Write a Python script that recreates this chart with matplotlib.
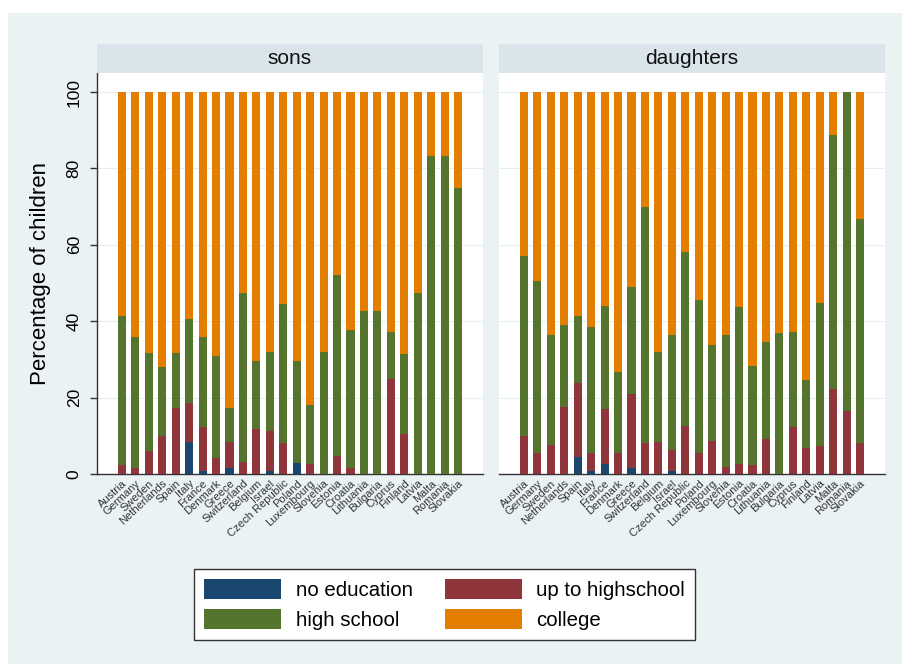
import matplotlib.pyplot as plt
from matplotlib.patches import Rectangle, Patch

plt.rcParams["font.family"] = ["Liberation Sans", "DejaVu Sans"]

countries = [
    "Austria", "Germany", "Sweden", "Netherlands", "Spain", "Italy", "France",
    "Denmark", "Greece", "Switzerland", "Belgium", "Israel", "Czech Republic",
    "Poland", "Luxembourg", "Slovenia", "Estonia", "Croatia", "Lithuania",
    "Bulgaria", "Cyprus", "Finland", "Latvia", "Malta", "Romania", "Slovakia",
]

# shares (percent) by education level, same country order as above
sons_no_educ = [0, 0, 0, 0, 0, 8.5, 0.9, 0, 1.7, 0, 0, 0.9, 0,
                3.0, 0, 0, 0, 0, 0, 0, 0, 0, 0, 0, 0, 0]
sons_up_to_hs = [2.4, 1.5, 6.0, 10.0, 17.2, 10.0, 11.5, 4.1, 6.8, 3.1, 11.8, 10.4, 8.2,
                 0, 2.5, 0, 4.8, 1.7, 0, 0, 24.8, 10.4, 0, 0, 0, 0]
sons_high_school = [39.0, 34.3, 25.6, 17.9, 14.4, 22.0, 23.4, 26.8, 8.7, 44.2, 17.8, 20.6, 36.3,
                    26.7, 15.6, 31.9, 47.3, 36.0, 42.8, 42.8, 12.5, 21.0, 47.3, 83.2, 83.2, 74.8]
sons_college = [58.6, 64.2, 68.4, 72.1, 68.4, 59.5, 64.2, 69.1, 82.8, 52.7, 70.4, 68.1, 55.5,
                70.3, 81.9, 68.1, 47.9, 62.3, 57.2, 57.2, 62.7, 68.6, 52.7, 16.8, 16.8, 25.2]

daughters_no_educ = [0, 0, 0, 0, 4.5, 0.9, 2.6, 0, 1.7, 0, 0, 0.7, 0,
                     0, 0, 0, 0, 0, 0, 0, 0, 0, 0, 0, 0, 0]
daughters_up_to_hs = [10.0, 5.4, 7.6, 17.6, 19.4, 4.5, 14.3, 5.4, 19.2, 8.0, 8.5, 5.6, 12.6,
                      5.4, 8.6, 1.9, 2.6, 2.4, 9.1, 0, 12.4, 6.9, 7.4, 22.2, 16.6, 8.2]
daughters_high_school = [47.1, 45.1, 28.8, 21.4, 17.5, 33.2, 27.2, 21.2, 28.0, 61.8, 23.4, 30.1, 45.4,
                         40.1, 25.2, 34.5, 41.2, 25.9, 25.5, 36.8, 24.9, 17.7, 37.5, 66.5, 83.4, 58.5]
daughters_college = [42.9, 49.5, 63.6, 61.0, 58.6, 61.4, 55.9, 73.4, 51.1, 30.2, 68.1, 63.6, 42.0,
                     54.5, 66.2, 63.6, 56.2, 71.7, 65.4, 63.2, 62.7, 75.4, 55.1, 11.3, 0, 33.3]

level_names = ["no education", "up to highschool", "high school", "college"]
level_colors = ["#1a476f", "#90353b", "#55752f", "#e37e00"]

panels = [
    ("sons", [sons_no_educ, sons_up_to_hs, sons_high_school, sons_college]),
    ("daughters", [daughters_no_educ, daughters_up_to_hs, daughters_high_school, daughters_college]),
]

W, H = 902, 664
fig = plt.figure(figsize=(W / 100, H / 100), dpi=100)
fig.patch.set_facecolor("white")

# graph region background, kept behind the panels
fig.patches.append(Rectangle((8 / W, 0), 1 - 8 / W, 1 - 13 / H, transform=fig.transFigure,
                             facecolor="#eaf2f3", edgecolor="none", zorder=-10))

panel_left = [97, 499]
panel_width = 386
plot_top, plot_bottom = 73, 474
strip_top = 44

positions = list(range(len(countries)))

for i, (title, levels) in enumerate(panels):
    x0 = panel_left[i]
    ax = fig.add_axes([x0 / W, 1 - plot_bottom / H, panel_width / W, (plot_bottom - plot_top) / H])
    ax.set_facecolor("white")

    bottom = [0.0] * len(countries)
    for values, color in zip(levels, level_colors):
        ax.bar(positions, values, width=0.6, bottom=bottom, color=color, linewidth=0, zorder=3)
        bottom = [b + v for b, v in zip(bottom, values)]

    ax.set_xlim(-1.86, len(countries) - 1 + 1.86)
    ax.set_ylim(0, 105)
    ax.set_yticks([0, 20, 40, 60, 80, 100])
    ax.grid(axis="y", color="#e6eef0", linewidth=0.8, zorder=0)

    ax.set_xticks(positions)
    ax.set_xticklabels(countries, rotation=43, ha="right", va="top",
                       rotation_mode="anchor", fontsize=8, color="#333333")
    ax.tick_params(axis="x", length=0, pad=3)

    for side in ["top", "right"]:
        ax.spines[side].set_visible(False)
    ax.spines["bottom"].set_color("#333333")
    ax.spines["bottom"].set_linewidth(1.0)

    if i == 0:
        ax.spines["left"].set_color("#333333")
        ax.spines["left"].set_linewidth(1.0)
        ax.tick_params(axis="y", length=5, width=1.0, color="#333333", pad=6, labelsize=12.5)
        for lab in ax.get_yticklabels():
            lab.set_rotation(90)
            lab.set_va("center")
        ax.set_ylabel("Percentage of children", fontsize=16, labelpad=11)
    else:
        ax.spines["left"].set_visible(False)
        ax.tick_params(axis="y", length=0, labelleft=False)

    # panel title strip
    strip = fig.add_axes([x0 / W, 1 - plot_top / H, panel_width / W, (plot_top - strip_top) / H])
    strip.set_facecolor("#d9e5eb")
    strip.set_xticks([])
    strip.set_yticks([])
    for s in strip.spines.values():
        s.set_visible(False)
    strip.text(0.5, 0.5, title, ha="center", va="center", fontsize=15, color="#111111",
               transform=strip.transAxes)

handles = [Patch(facecolor=c, edgecolor="none") for c in level_colors]
# two columns: no education / high school, then up to highschool / college
order = [0, 2, 1, 3]
leg = fig.legend([handles[k] for k in order], [level_names[k] for k in order],
                 ncol=2, loc="center", bbox_to_anchor=(444.5 / W, 1 - 604.5 / H),
                 fontsize=14.7, handlelength=3.77, handleheight=1.13, handletextpad=0.7,
                 columnspacing=1.57, labelspacing=0.4, borderpad=0.5,
                 frameon=True, fancybox=False, framealpha=1)
leg.get_frame().set_edgecolor("#333333")
leg.get_frame().set_linewidth(1.0)

fig.savefig("out.png", dpi=100)
